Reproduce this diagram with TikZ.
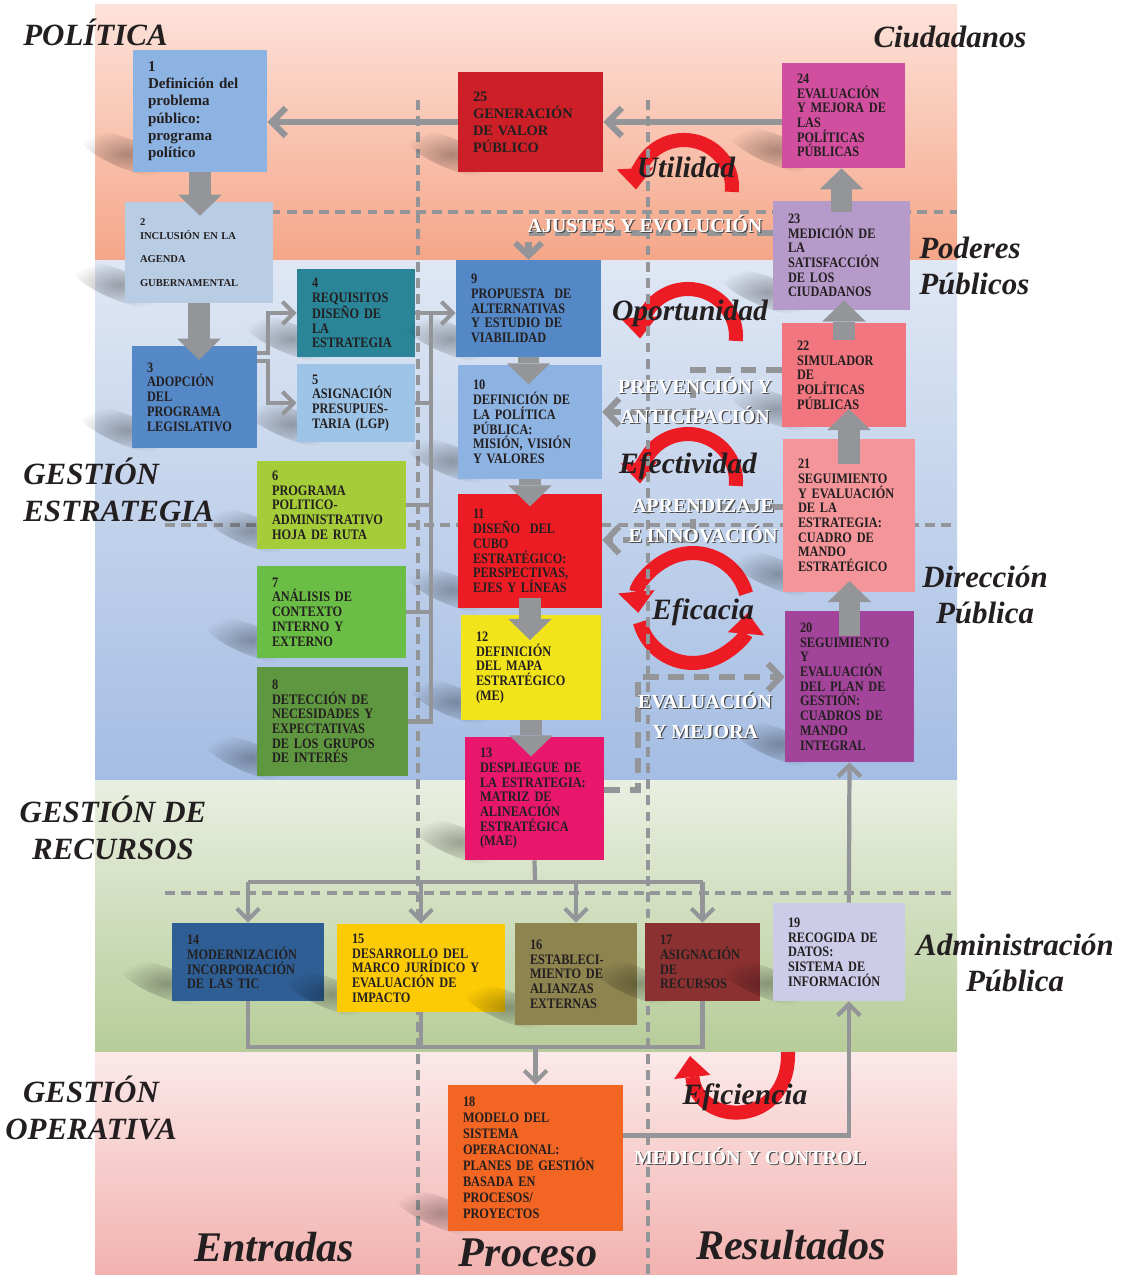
\documentclass[tikz,border=0pt]{standalone}
\usepackage{fontspec}
\setmainfont{Liberation Serif}
\newfontfamily\boxfont{Liberation Serif}[FakeStretch=0.85]
\usetikzlibrary{arrows.meta,fadings}

\tikzfading[name=softblob, inner color=transparent!0, outer color=transparent!100]

\definecolor{arrowgray}{HTML}{939598}
\definecolor{textdark}{HTML}{231F20}
\definecolor{cyclered}{HTML}{ED1C24}
\definecolor{polTop}{HTML}{FDE2DA}
\definecolor{polBot}{HTML}{F5A688}
\definecolor{estTop}{HTML}{DFE7F4}
\definecolor{estBot}{HTML}{A4BDE3}
\definecolor{recTop}{HTML}{E9EFE1}
\definecolor{recBot}{HTML}{B6CC99}
\definecolor{opeTop}{HTML}{FBE9E9}
\definecolor{opeBot}{HTML}{F2B2AF}
% box colours
\definecolor{col1}{HTML}{8DB3E2}
\definecolor{col2}{HTML}{B8CCE4}
\definecolor{col3}{HTML}{5588C6}
\definecolor{col4}{HTML}{2A8598}
\definecolor{col5}{HTML}{9DC3E6}
\definecolor{col6}{HTML}{A5CD39}
\definecolor{col7}{HTML}{6ABD45}
\definecolor{col8}{HTML}{5F9740}
\definecolor{col9}{HTML}{5588C6}
\definecolor{col10}{HTML}{8DB3E2}
\definecolor{col11}{HTML}{ED1C24}
\definecolor{col12}{HTML}{F2E41A}
\definecolor{col13}{HTML}{E8176C}
\definecolor{col14}{HTML}{2E5E93}
\definecolor{col15}{HTML}{FDCB05}
\definecolor{col16}{HTML}{8D8450}
\definecolor{col17}{HTML}{8C3132}
\definecolor{col18}{HTML}{F26522}
\definecolor{col19}{HTML}{CCCCE8}
\definecolor{col20}{HTML}{A3449B}
\definecolor{col21}{HTML}{F4959A}
\definecolor{col22}{HTML}{F1767F}
\definecolor{col23}{HTML}{B69AC9}
\definecolor{col24}{HTML}{D14F9E}
\definecolor{col25}{HTML}{CC1F27}

\tikzset{
  stepbox/.style={rectangle, inner sep=0pt, align=left, text=textdark,
    font=\boxfont\bfseries\fontsize{10.3}{10.45}\selectfont},
  boxshadow/.style={fill=black, opacity=0.3, path fading=softblob},
  fatarrow/.style={draw=arrowgray, line width=15pt,
    -{Triangle[length=15pt,width=31pt,line width=0pt]}},
  conn/.style={draw=arrowgray, line width=3pt, -{Straight Barb[length=8pt,width=16pt]}},
  connline/.style={draw=arrowgray, line width=3pt},
  mainconn/.style={draw=arrowgray, line width=4.5pt, -{Straight Barb[length=10pt,width=20pt]}},
  feedback/.style={draw=arrowgray, line width=4.3pt, dash pattern=on 11pt off 7pt,
    -{Straight Barb[length=9pt,width=19pt]}},
  divider/.style={draw=arrowgray, line width=2.2pt, dash pattern=on 7pt off 4.5pt},
  cyclearrow/.style={draw=cyclered, line width=10pt,
    -{Triangle[length=15pt,width=26pt,line width=0pt]}},
  sectlabel/.style={font=\bfseries\itshape\fontsize{22}{26}\selectfont, text=textdark, inner sep=0pt},
  bottomlabel/.style={font=\bfseries\itshape\fontsize{30}{32}\selectfont, text=textdark, inner sep=0pt},
  cyclelabel/.style={font=\bfseries\itshape\fontsize{21}{24}\selectfont, text=textdark, inner sep=0pt},
  glowtext/.style={font=\bfseries\fontsize{14.2}{21}\selectfont, text=white, align=center, inner sep=0pt},
  glowshade/.style={glowtext, text=black!70},
}

% box from its corners: name, x1, y1, x2, y2, options, text
\newcommand{\procbox}[7]{%
  \pgfmathsetmacro{\boxw}{(#4-(#2))*0.025}%
  \pgfmathsetmacro{\boxh}{(#5-(#3))*0.025}%
  \pgfmathsetmacro{\boxtw}{(#4-(#2)-30)*0.025}%
  \fill[boxshadow, rotate around={-22:(#2-6,#5-18)}] (#2-6,#5-18) ellipse[x radius=52, y radius=15];
  \node[stepbox, minimum width=\boxw cm, minimum height=\boxh cm, text width=\boxtw cm, #6]
    (#1) at ({(#2+#4)/2},{(#3+#5)/2}) {#7};}

% white lettering with a dark shadow
\newcommand{\glowlabel}[3]{%
  \node[glowshade] at ([xshift=0.9pt,yshift=-0.9pt]#2) {#3};
  \node[glowtext] (#1) at (#2) {#3};}

\begin{document}
\begin{tikzpicture}[x=0.025cm, y=-0.025cm]
  \useasboundingbox[fill=white] (0,0) rectangle (1132,1275);

  % bands
  \shade[top color=polTop, bottom color=polBot] (95,5) rectangle (957,260);
  \shade[top color=estTop, bottom color=estBot] (95,260) rectangle (957,780);
  \shade[top color=recTop, bottom color=recBot] (95,780) rectangle (957,1052);
  \shade[top color=opeTop, bottom color=opeBot] (95,1052) rectangle (957,1275);

  % dividers
  \draw[divider] (125,212) -- (957,212);
  \draw[divider] (165,525) -- (957,525);
  \draw[divider] (165,893) -- (957,893);

  % red cycles
  \begin{scope}[shift={(684,187)}, yscale=-1]
    \draw[cyclearrow] (-6:48 and 47) arc[start angle=-6, end angle=183, x radius=48, y radius=47];
  \end{scope}
  \begin{scope}[shift={(688,336)}, yscale=-1]
    \draw[cyclearrow] (-6:48 and 47) arc[start angle=-6, end angle=183, x radius=48, y radius=47];
  \end{scope}
  \begin{scope}[shift={(688,481)}, yscale=-1]
    \draw[cyclearrow] (-6:48 and 47) arc[start angle=-6, end angle=183, x radius=48, y radius=47];
  \end{scope}
  \begin{scope}[shift={(693,608)}, yscale=-1]
    \draw[cyclearrow] (15:55) arc[start angle=15, end angle=185, radius=55];
    \draw[cyclearrow] (195:55) arc[start angle=195, end angle=355, radius=55];
  \end{scope}
  \draw[cyclearrow] (788,1052) .. controls (790,1128) and (698,1128) .. (690,1056);

  \draw[divider] (418,100) -- (418,1275);
  \draw[divider] (648,100) -- (648,1275);

  % boxes
  \procbox{b1}{133}{50}{267}{172}{fill=col1, font=\bfseries\fontsize{10.7}{12.3}\selectfont}
    {1\\ Definición del\\ problema\\ público:\\ programa\\ político}
  \procbox{b25}{458}{72}{603}{172}{fill=col25, font=\bfseries\fontsize{10.3}{12.1}\selectfont}
    {25\\ GENERACIÓN\\ DE VALOR\\ PÚBLICO}
  \procbox{b24}{782}{63}{905}{168}{fill=col24}
    {24\\ EVALUACIÓN\\ Y MEJORA DE\\ LAS\\ POLÍTICAS\\ PÚBLICAS}
  \procbox{b2}{125}{202}{273}{303}{fill=col2, font=\bfseries\fontsize{7.5}{10}\selectfont}
    {2\\ INCLUSIÓN EN LA\\[7pt] AGENDA\\[7pt] GUBERNAMENTAL}
  \procbox{b23}{773}{201}{910}{310}{fill=col23}
    {23\\ MEDICIÓN DE\\ LA\\ SATISFACCIÓN\\ DE LOS\\ CIUDADANOS}
  \procbox{b4}{297}{269}{415}{357}{fill=col4}
    {4\\ REQUISITOS\\ DISEÑO DE\\ LA\\ ESTRATEGIA}
  \procbox{b9}{456}{260}{601}{357}{fill=col9}
    {9\\ PROPUESTA~~DE\\ ALTERNATIVAS\\ Y ESTUDIO DE\\ VIABILIDAD}
  \procbox{b22}{782}{323}{906}{427}{fill=col22}
    {22\\ SIMULADOR\\ DE\\ POLÍTICAS\\ PÚBLICAS}
  \procbox{b5}{297}{364}{415}{442}{fill=col5}
    {5\\ ASIGNACIÓN\\ PRESUPUES-\\ TARIA (LGP)}
  \procbox{b3}{132}{346}{257}{448}{fill=col3}
    {3\\ ADOPCIÓN\\ DEL\\ PROGRAMA\\ LEGISLATIVO}
  \procbox{b10}{458}{365}{602}{479}{fill=col10}
    {10\\ DEFINICIÓN DE\\ LA POLÍTICA\\ PÚBLICA:\\ MISIÓN, VISIÓN\\ Y VALORES}
  \procbox{b21}{783}{439}{915}{592}{fill=col21}
    {21\\ SEGUIMIENTO\\ Y EVALUACIÓN\\ DE LA\\ ESTRATEGIA:\\ CUADRO DE\\ MANDO\\ ESTRATÉGICO}
  \procbox{b6}{257}{461}{406}{549}{fill=col6}
    {6\\ PROGRAMA\\ POLITICO-\\ ADMINISTRATIVO\\ HOJA DE RUTA}
  \procbox{b11}{458}{494}{602}{608}{fill=col11}
    {11\\ DISEÑO~~DEL\\ CUBO\\ ESTRATÉGICO:\\ PERSPECTIVAS,\\ EJES Y LÍNEAS}
  \procbox{b7}{257}{566}{406}{658}{fill=col7}
    {7\\ ANÁLISIS DE\\ CONTEXTO\\ INTERNO Y\\ EXTERNO}
  \procbox{b12}{461}{615}{601}{720}{fill=col12}
    {12\\ DEFINICIÓN\\ DEL MAPA\\ ESTRATÉGICO\\ (ME)}
  \procbox{b20}{785}{611}{914}{762}{fill=col20}
    {20\\ SEGUIMIENTO\\ Y\\ EVALUACIÓN\\ DEL PLAN DE\\ GESTIÓN:\\ CUADROS DE\\ MANDO\\ INTEGRAL}
  \procbox{b8}{257}{667}{408}{776}{fill=col8}
    {8\\ DETECCIÓN DE\\ NECESIDADES Y\\ EXPECTATIVAS\\ DE LOS GRUPOS\\ DE INTERÉS}
  \procbox{b13}{465}{737}{604}{860}{fill=col13}
    {13\\ DESPLIEGUE DE\\ LA ESTRATEGIA:\\ MATRIZ DE\\ ALINEACIÓN\\ ESTRATÉGICA\\ (MAE)}
  \procbox{b14}{172}{923}{324}{1001}{fill=col14}
    {14\\ MODERNIZACIÓN\\ INCORPORACIÓN\\ DE LAS TIC}
  \procbox{b15}{337}{924}{505}{1012}{fill=col15}
    {15\\ DESARROLLO DEL\\ MARCO JURÍDICO Y\\ EVALUACIÓN DE\\ IMPACTO}
  \procbox{b16}{515}{923}{637}{1025}{fill=col16}
    {16\\ ESTABLECI-\\ MIENTO DE\\ ALIANZAS\\ EXTERNAS}
  \procbox{b17}{645}{923}{760}{1001}{fill=col17}
    {17\\ ASIGNACIÓN\\ DE\\ RECURSOS}
  \procbox{b19}{773}{903}{905}{1001}{fill=col19}
    {19\\ RECOGIDA DE\\ DATOS:\\ SISTEMA DE\\ INFORMACIÓN}
  \procbox{b18}{448}{1085}{623}{1231}{fill=col18, font=\boxfont\bfseries\fontsize{10.3}{11.4}\selectfont}
    {18\\ MODELO DEL\\ SISTEMA\\ OPERACIONAL:\\ PLANES DE GESTIÓN\\ BASADA EN\\ PROCESOS/\\ PROYECTOS}

  % block arrows
  \draw[fatarrow, shorten >=-10pt] (b1.south) -- (b1.south |- b2.north);
  \draw[fatarrow, shorten >=-10pt] (b2.south) -- (b2.south |- b3.north);
  \draw[fatarrow, shorten >=-14pt] (b9.south) -- (b9.south |- b10.north);
  \draw[fatarrow, shorten >=-9pt] (b10.south) -- (b10.south |- b11.north);
  \draw[fatarrow, shorten <=-7pt, shorten >=-18pt] (b11.south) -- (b11.south |- b12.north);
  \draw[fatarrow, shorten >=-14pt] (b12.south) -- (b12.south |- b13.north);
  \draw[fatarrow, shorten <=-18pt, shorten >=-8pt] (b20.north) -- (b20.north |- b21.south);
  \draw[fatarrow, shorten <=-18pt, shorten >=-13pt] (b21.north) -- (b21.north |- b22.south);
  \draw[fatarrow, shorten <=-12pt, shorten >=-7pt] (b22.north) -- (b22.north |- b23.south);
  \draw[fatarrow, shorten <=-8pt] (b23.north) -- (b23.north |- b24.south);

  % connectors
  \draw[mainconn] (b24.west |- b25.east) -- (b25.east);
  \draw[mainconn] (b25.west) -- (b25.west -| b1.east);
  \draw[conn] ([yshift=-5pt]b3.north east) -- ++(11,0) |- (b4.west);
  \draw[conn] ([yshift=-11pt]b3.north east) -- ++(11,0) |- (b5.west);
  \coordinate (bus) at (431,313);
  \draw[connline] (b8.east) -| (bus);
  \foreach \k in {5,6,7}
    \draw[connline] (b\k.east) -- (b\k.east -| bus);
  \draw[conn] (b4.east |- bus) -- (bus -| b9.west);
  \coordinate (fork) at (535,882);
  \draw[connline] (b13.south) -- (fork);
  \draw[connline] (b14.north |- fork) -- (b17.north |- fork);
  \foreach \k in {14,15,16,17}
    \draw[conn] (b\k.north |- fork) -- (b\k.north);
  \coordinate (merge) at (536,1047);
  \draw[connline] (b14.south) -- (b14.south |- merge) -- (b17.south |- merge) -- (b17.south);
  \draw[connline] (b15.south) -- (b15.south |- merge);
  \draw[conn] (b18.north |- merge) -- (b18.north);
  \draw[conn] ([yshift=16pt]b18.east) -| ([xshift=7pt]b19.south);
  \draw[conn] ([xshift=7pt]b19.north) -- (b20.south);

  % feedback
  \coordinate (ajA) at (529,233);
  \coordinate (prevA) at (693,370);
  \coordinate (prevB) at (693,412);
  \coordinate (aprA) at (693,507);
  \coordinate (aprB) at (693,540);
  \coordinate (evA) at (638,790);
  \coordinate (evB) at (638,677);
  \draw[feedback] (b23.west |- ajA) -| (b9.north);
  \draw[feedback] (b22.west |- prevA) -- (prevA) -- (prevB) -- (prevB -| b10.east);
  \draw[feedback] (b21.west |- aprA) -- (aprA) -- (aprB) -- (aprB -| b11.east);
  \draw[feedback] (b13.east |- evA) -- (evA) -- (evB) -- (evB -| b20.west);

  \glowlabel{ajustes}{645,224}{AJUSTES Y EVOLUCIÓN}
  \glowlabel{prevencion}{695,400}{PREVENCIÓN Y\\ANTICIPACIÓN}
  \glowlabel{aprendizaje}{703,521}{APRENDIZAJE\\E INNOVACIÓN}
  \glowlabel{evaluacion}{705,715}{EVALUACIÓN\\Y MEJORA}
  \glowlabel{medicion}{750,1156}{MEDICIÓN Y CONTROL}

  \node[cyclelabel] (utilidad) at (686,167) {Utilidad};
  \node[cyclelabel] (oportunidad) at (690,313) {Oportunidad};
  \node[cyclelabel] (efectividad) at (688,466) {Efectividad};
  \node[cyclelabel] (eficacia) at (703,612) {Eficacia};
  \node[cyclelabel] (eficiencia) at (745,1097) {Eficiencia};

  % side labels
  \node[sectlabel, anchor=west] (politica) at (23,32) {POLÍTICA};
  \node[sectlabel] (ciudadanos) at (950,37) {Ciudadanos};
  \node[sectlabel, anchor=west, align=left] (poderes) at (919,266) {Poderes\\Públicos};
  \node[sectlabel, anchor=west, align=left] (gestest) at (23,490) {GESTIÓN\\ESTRATEGIA};
  \node[sectlabel, align=center] (direccion) at (985,595) {Dirección\\Pública};
  \node[sectlabel, align=center] (gestrec) at (113,828) {GESTIÓN DE\\RECURSOS};
  \node[sectlabel, align=center] (admin) at (1015,963) {Administración\\Pública};
  \node[sectlabel, align=center] (gestope) at (91,1108) {GESTIÓN\\OPERATIVA};
  \node[bottomlabel] (entradas) at (274,1247) {Entradas};
  \node[bottomlabel] (proceso) at (528,1253) {Proceso};
  \node[bottomlabel] (resultados) at (791,1245) {Resultados};
\end{tikzpicture}
\end{document}
